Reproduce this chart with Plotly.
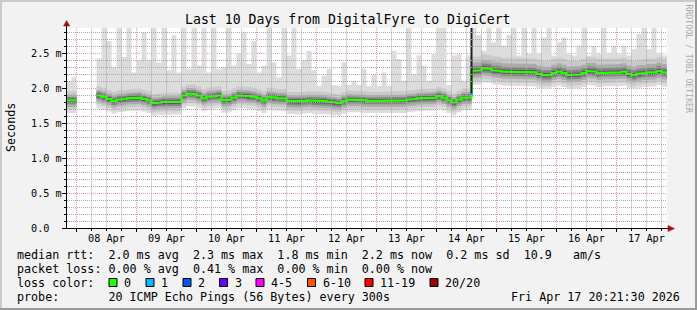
import plotly.graph_objects as go
import pandas as pd

# ---------------- data ----------------
slot_start = "2026-04-07 20:00"      # first 2-hour consolidation slot
slot_hours = 2
view_start = "2026-04-07 20:12:00"
view_end = "2026-04-17 20:12:00"

# median RTT per 2-hour slot (ms); None = no data
median_ms = [
    1.83, 1.83, None, None, None, None, 1.90, 1.88, 1.85, 1.82,
    1.84, 1.85, 1.86, 1.86, 1.87, 1.85, 1.83, 1.79, 1.80, 1.81,
    1.80, 1.81, 1.81, 1.90, 1.93, 1.92, 1.90, 1.86, 1.88, 1.89,
    1.90, 1.83, 1.84, 1.87, 1.90, 1.90, 1.89, 1.88, 1.86, 1.83,
    1.88, 1.87, 1.86, 1.86, 1.82, 1.81, 1.81, 1.82, 1.83, 1.82,
    1.82, 1.82, 1.81, 1.80, 1.79, 1.82, 1.84, 1.84, 1.84, 1.83,
    1.82, 1.82, 1.82, 1.82, 1.83, 1.83, 1.83, 1.83, 1.84, 1.85,
    1.86, 1.86, 1.87, 1.87, 1.89, 1.87, 1.83, 1.80, 1.84, 1.87,
    1.87, 2.25, 2.26, 2.29, 2.28, 2.26, 2.25, 2.24, 2.24, 2.23,
    2.23, 2.24, 2.23, 2.23, 2.21, 2.19, 2.19, 2.22, 2.24, 2.22,
    2.19, 2.19, 2.20, 2.22, 2.25, 2.24, 2.22, 2.23, 2.23, 2.23,
    2.23, 2.24, 2.21, 2.19, 2.21, 2.22, 2.23, 2.23, 2.25, 2.23,
    2.21,
]

# slowest ping per slot (ms) - top of the light smoke
max_ms = [
    2.10, 2.16, None, None, None, None, 2.43, 2.90, 2.68, 2.30,
    2.90, 2.45, 2.90, 2.23, 2.40, 2.80, 2.40, 2.90, 2.37, 2.90,
    2.26, 2.76, 2.23, 2.90, 2.28, 2.90, 2.33, 2.90, 2.23, 2.90,
    2.28, 2.30, 2.90, 2.33, 2.51, 2.80, 2.35, 2.68, 2.23, 2.33,
    2.90, 2.37, 2.16, 2.90, 2.47, 2.90, 2.28, 2.40, 2.54, 2.26,
    2.04, 2.18, 2.28, 2.05, 2.04, 2.37, 2.05, 2.11, 2.05, 2.28,
    2.04, 2.20, 2.04, 2.23, 2.04, 2.54, 2.42, 2.11, 2.90, 2.20,
    2.47, 2.33, 2.11, 2.49, 2.90, 2.90, 2.05, 2.47, 2.49, 2.11,
    2.47, 2.90, 2.76, 2.54, 2.90, 2.66, 2.90, 2.61, 2.76, 2.90,
    2.47, 2.90, 2.49, 2.90, 2.51, 2.73, 2.90, 2.47, 2.66, 2.73,
    2.51, 2.47, 2.61, 2.90, 2.47, 2.61, 2.49, 2.90, 2.51, 2.61,
    2.49, 2.61, 2.47, 2.56, 2.78, 2.90, 2.56, 2.90, 2.51, 2.47,
    2.47,
]

# smoke spread around the median (ms), read before / after the route change
route_change = "2026-04-14 14:00"
smoke_up_before = [0.13, 0.08, 0.05, 0.025]
smoke_dn_before = [0.13, 0.09, 0.055, 0.028]
smoke_min_before = 0.18
smoke_up_after = [0.20, 0.12, 0.07, 0.03]
smoke_dn_after = [0.15, 0.10, 0.06, 0.03]
smoke_min_after = 0.20

spike_time = "2026-04-14 14:00"
spike_range = [1.92, 2.90]
loss1_range = [1.90, 1.93]

day_labels = ["08 Apr", "09 Apr", "10 Apr", "11 Apr", "12 Apr",
              "13 Apr", "14 Apr", "15 Apr", "16 Apr", "17 Apr"]
y_ticks = [0.0, 0.5, 1.0, 1.5, 2.0, 2.5]
y_tick_text = ["0.0", "0.5 m", "1.0 m", "1.5 m", "2.0 m", "2.5 m"]

loss_labels = ["0", "1", "2", "3", "4-5", "6-10", "11-19", "20/20"]
loss_colors = ["#26ff00", "#00b8ff", "#0059ff", "#6a00ff",
               "#ff00ff", "#ff5500", "#ff0000", "#a10000"]

title = "Last 10 Days from DigitalFyre to DigiCert"
legend_rtt = "median rtt:  2.0 ms avg  2.3 ms max  1.8 ms min  2.2 ms now  0.2 ms sd  10.9   am/s"
legend_loss = "packet loss: 0.00 % avg  0.41 % max  0.00 % min  0.00 % now"
legend_probe = "probe:       20 ICMP Echo Pings (56 Bytes) every 300s"
stamp = "Fri Apr 17 20:21:30 2026"

# ---------------- styling ----------------
FONT = "DejaVu Sans Mono"
BACK = "#F2F2F2"
GRID = "#A8A8A8"
MGRID = "#E89C9C"
ARROW = "#A01010"
band_colors = ["#C9C9C9", "#ABABAB", "#858585", "#585858"]
outer_color = "#DCDCDC"

W, H = 697, 310
L, R, T, B = 67, 30, 28, 82
PX_PER_MS = 70.0
half_px = 0.5 / PX_PER_MS      # puts 1px grid lines on pixel centres
Y0 = half_px
Y1 = half_px + (H - T - B) / PX_PER_MS


def PX(x):
    return (x - L) / (W - L - R)


def PY(y):
    return (H - B - y) / (H - T - B)


def YP(v):
    return (v - Y0) / (Y1 - Y0)


def nb(s):
    return s.replace(" ", "\u00a0")


times = pd.date_range(slot_start, periods=len(median_ms) + 1, freq=f"{slot_hours}h")
tstr = [t.strftime("%Y-%m-%d %H:%M:%S") for t in times]
rc = pd.Timestamp(route_change)

n = len(median_ms)
ups, dns, mins = [], [], []
for k in range(n):
    after = times[k] >= rc
    ups.append(smoke_up_after if after else smoke_up_before)
    dns.append(smoke_dn_after if after else smoke_dn_before)
    mins.append(smoke_min_after if after else smoke_min_before)


def step_poly(lo, hi):
    xs, ys = [], []
    k = 0
    while k < n:
        if lo[k] is None:
            k += 1
            continue
        j = k
        while j < n and lo[j] is not None:
            j += 1
        for i in range(k, j):
            xs += [tstr[i], tstr[i + 1]]
            ys += [hi[i], hi[i]]
        for i in range(j - 1, k - 1, -1):
            xs += [tstr[i + 1], tstr[i]]
            ys += [lo[i], lo[i]]
        xs.append(tstr[k])
        ys.append(hi[k])
        xs.append(None)
        ys.append(None)
        k = j
    return xs, ys


fig = go.Figure()

# outer (lightest) smoke: fastest .. slowest ping
lo0 = [None if m is None else m - mins[k] for k, m in enumerate(median_ms)]
hi0 = [None if m is None else max(max_ms[k], m + ups[k][0]) for k, m in enumerate(median_ms)]
xs, ys = step_poly(lo0, hi0)
fig.add_trace(go.Scatter(x=xs, y=ys, mode="lines", fill="toself", fillcolor=outer_color,
                         line=dict(width=0, color=outer_color), hoverinfo="skip"))

for b, col in enumerate(band_colors):
    lo = [None if m is None else m - dns[k][b] for k, m in enumerate(median_ms)]
    hi = [None if m is None else m + ups[k][b] for k, m in enumerate(median_ms)]
    xs, ys = step_poly(lo, hi)
    fig.add_trace(go.Scatter(x=xs, y=ys, mode="lines", fill="toself", fillcolor=col,
                             line=dict(width=0, color=col), hoverinfo="skip"))

# median line (stepped)
mx, my = [], []
k = 0
while k < n:
    if median_ms[k] is None:
        k += 1
        continue
    j = k
    while j < n and median_ms[j] is not None:
        j += 1
    for i in range(k, j):
        mx += [tstr[i], tstr[i + 1]]
        my += [median_ms[i], median_ms[i]]
    mx.append(None)
    my.append(None)
    k = j
fig.add_trace(go.Scatter(x=mx, y=my, mode="lines", line=dict(color=loss_colors[0], width=2.2),
                         hoverinfo="skip"))

# route-change spike and the one-loss median mark
fig.add_trace(go.Scatter(x=[spike_time, spike_time], y=spike_range, mode="lines",
                         line=dict(color="#1E1E1E", width=2), hoverinfo="skip"))
fig.add_trace(go.Scatter(x=[spike_time, spike_time], y=loss1_range, mode="lines",
                         line=dict(color=loss_colors[1], width=2.5), hoverinfo="skip"))

# minor (grey, dotted) grid drawn over the smoke, like rrdtool does
gx, gy = [], []
for t in pd.date_range("2026-04-07 18:00", "2026-04-17 18:00", freq="6h"):
    if t.hour == 0:
        continue
    s = t.strftime("%Y-%m-%d %H:%M:%S")
    gx += [s, s, None]
    gy += [0, 3, None]
for i in range(1, 29):
    if i % 5 == 0:
        continue
    gx += [view_start, view_end, None]
    gy += [i / 10, i / 10, None]
fig.add_trace(go.Scatter(x=gx, y=gy, mode="lines",
                         line=dict(color=GRID, width=1, dash="1px,1px"), hoverinfo="skip"))

# ---------------- annotations ----------------
ann = []
ann.append(dict(text=title, x=PX(348), y=PY(19.5), xref="paper", yref="paper",
                xanchor="center", yanchor="middle", showarrow=False,
                font=dict(family=FONT, size=13.2, color="#000")))
ann.append(dict(text="Seconds", x=PX(11), y=PY(128), xref="paper", yref="paper",
                xanchor="center", yanchor="middle", textangle=-90, showarrow=False,
                font=dict(family=FONT, size=11.7, color="#000")))
ann.append(dict(text=nb("RRDTOOL / TOBI OETIKER"), x=PX(688.5), y=PY(59), xref="paper",
                yref="paper", xanchor="center", yanchor="middle", textangle=90,
                showarrow=False, font=dict(family=FONT, size=8.2, color="#ABABAB")))

noon0 = pd.Timestamp("2026-04-08 12:00")
for i, lab in enumerate(day_labels):
    t = (noon0 + pd.Timedelta(days=i)).strftime("%Y-%m-%d %H:%M:%S")
    ann.append(dict(text=nb(lab), x=t, y=PY(238.5), xref="x", yref="paper",
                    xanchor="center", yanchor="middle", showarrow=False,
                    font=dict(family=FONT, size=10.2, color="#000")))

for v, lab in zip(y_ticks, y_tick_text):
    ann.append(dict(text=nb(lab), x=PX(29), y=YP(v), xref="paper", yref="paper",
                    xanchor="left", yanchor="middle", showarrow=False,
                    font=dict(family=FONT, size=10.2, color="#000")))

for txt, yy in [(legend_rtt, 254.5), (legend_loss, 268.5), ("loss color:", 282.5),
                (legend_probe, 296.5)]:
    ann.append(dict(text=nb(txt), x=PX(14.5), y=PY(yy), xref="paper", yref="paper",
                    xanchor="left", yanchor="middle", showarrow=False,
                    font=dict(family=FONT, size=11.7, color="#000")))
ann.append(dict(text=nb(stamp), x=PX(682), y=PY(296.5), xref="paper", yref="paper",
                xanchor="right", yanchor="middle", showarrow=False,
                font=dict(family=FONT, size=11.7, color="#000")))

box_x = [109, 146, 183, 219.5, 256, 307.5, 365, 430]
shapes = []
for bx, lab, col in zip(box_x, loss_labels, loss_colors):
    shapes.append(dict(type="rect", xref="paper", yref="paper",
                       x0=PX(bx), x1=PX(bx + 8), y0=PY(286.5), y1=PY(278.5),
                       fillcolor=col, line=dict(color="#000", width=1), layer="above"))
    ann.append(dict(text=nb(lab), x=PX(bx + 13), y=PY(282.5), xref="paper", yref="paper",
                    xanchor="left", yanchor="middle", showarrow=False,
                    font=dict(family=FONT, size=11.7, color="#000")))

# axes with arrows
shapes.append(dict(type="line", xref="paper", yref="paper", x0=PX(66.5), x1=PX(66.5),
                   y0=PY(229), y1=PY(25), line=dict(color="#000", width=1), layer="above"))
shapes.append(dict(type="line", xref="paper", yref="paper", x0=PX(62), x1=PX(669),
                   y0=PY(228.5), y1=PY(228.5), line=dict(color="#000", width=1), layer="above"))
shapes.append(dict(type="path", xref="paper", yref="paper",
                   path=f"M {PX(63.5)} {PY(26)} L {PX(69.8)} {PY(26)} L {PX(66.6)} {PY(20.5)} Z",
                   fillcolor=ARROW, line=dict(color=ARROW, width=0.5), layer="above"))
shapes.append(dict(type="path", xref="paper", yref="paper",
                   path=f"M {PX(668)} {PY(225.5)} L {PX(668)} {PY(231.5)} L {PX(674.5)} {PY(228.5)} Z",
                   fillcolor=ARROW, line=dict(color=ARROW, width=0.5), layer="above"))

# image frame
shapes += [
    dict(type="rect", xref="paper", yref="paper", x0=PX(0), x1=PX(W), y0=PY(0), y1=PY(2),
         fillcolor="#CBCBCB", line=dict(width=0), layer="above"),
    dict(type="rect", xref="paper", yref="paper", x0=PX(0), x1=PX(2), y0=PY(0), y1=PY(H),
         fillcolor="#CBCBCB", line=dict(width=0), layer="above"),
    dict(type="rect", xref="paper", yref="paper", x0=PX(0), x1=PX(W), y0=PY(H - 2), y1=PY(H),
         fillcolor="#999999", line=dict(width=0), layer="above"),
    dict(type="rect", xref="paper", yref="paper", x0=PX(W - 2), x1=PX(W), y0=PY(0), y1=PY(H),
         fillcolor="#999999", line=dict(width=0), layer="above"),
]

fig.update_layout(
    width=W, height=H, margin=dict(l=L, r=R, t=T, b=B, pad=0),
    paper_bgcolor=BACK, plot_bgcolor="#FFFFFF", showlegend=False,
    font=dict(family=FONT, color="#000"),
    annotations=ann, shapes=shapes,
    xaxis=dict(type="date", range=[view_start, view_end], tick0="2026-04-08",
               dtick=86400000, showticklabels=False, ticks="outside", ticklen=3,
               tickcolor="#000", showgrid=True, gridcolor=MGRID, griddash="1px,1px",
               gridwidth=1, zeroline=False, showline=False, layer="above traces",
               fixedrange=True,
               minor=dict(dtick=21600000, tick0="2026-04-08", showgrid=False,
                          ticks="outside", ticklen=2, tickcolor="#000")),
    yaxis=dict(range=[Y0, Y1], tick0=0, dtick=0.5,
               showticklabels=False,
               ticks="outside", ticklen=4, tickcolor="#000", showgrid=True,
               gridcolor=MGRID, griddash="1px,1px", gridwidth=1, zeroline=False,
               showline=False, layer="above traces", fixedrange=True,
               minor=dict(dtick=0.1, tick0=0, showgrid=False, ticks="outside",
                          ticklen=2, tickcolor="#000")),
)

fig.write_html("out.html")
